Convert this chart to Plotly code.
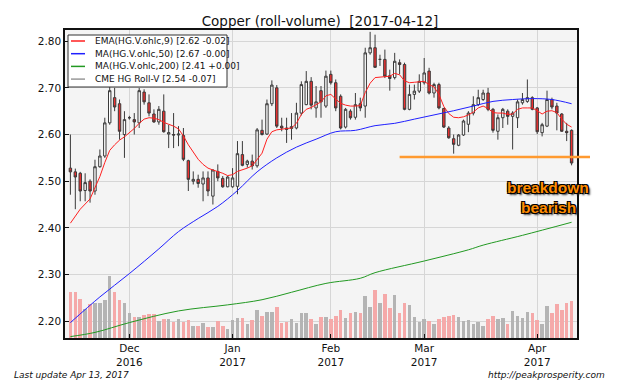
import pandas as pd
import plotly.graph_objects as go

# ---------------- data ----------------
START = "2016-11-14"
END = "2017-04-12"
HOLIDAYS = ["2016-11-24", "2016-12-26", "2017-01-02", "2017-01-16", "2017-02-20"]
DATES = [d.strftime("%Y-%m-%d") for d in pd.bdate_range(START, END) if d.strftime("%Y-%m-%d") not in HOLIDAYS]

OPEN = [2.528, 2.520, 2.517, 2.480, 2.500, 2.479, 2.531, 2.554, 2.625, 2.679,
        2.666, 2.600, 2.636, 2.632, 2.625, 2.691, 2.668, 2.644, 2.627, 2.650,
        2.601, 2.600, 2.599, 2.598, 2.544, 2.500, 2.504, 2.494, 2.507, 2.468,
        2.521, 2.506, 2.488, 2.488, 2.489, 2.557, 2.536, 2.543, 2.533, 2.609,
        2.601, 2.666, 2.700, 2.618, 2.614, 2.613, 2.614, 2.646, 2.664, 2.714,
        2.657, 2.694, 2.661, 2.729, 2.711, 2.682, 2.616, 2.650, 2.637, 2.666,
        2.661, 2.775, 2.786, 2.761, 2.761, 2.726, 2.722, 2.754, 2.750, 2.654,
        2.686, 2.693, 2.711, 2.736, 2.689, 2.707, 2.656, 2.614, 2.591, 2.577,
        2.599, 2.622, 2.646, 2.664, 2.675, 2.689, 2.654, 2.607, 2.636, 2.650,
        2.639, 2.636, 2.668, 2.671, 2.679, 2.657, 2.604, 2.618, 2.675, 2.661,
        2.644, 2.607, 2.609]
HIGH = [2.600, 2.527, 2.520, 2.517, 2.504, 2.546, 2.568, 2.636, 2.721, 2.700,
        2.675, 2.650, 2.640, 2.646, 2.700, 2.697, 2.686, 2.654, 2.661, 2.686,
        2.621, 2.646, 2.618, 2.614, 2.546, 2.521, 2.514, 2.521, 2.521, 2.525,
        2.536, 2.511, 2.511, 2.528, 2.586, 2.586, 2.546, 2.557, 2.614, 2.632,
        2.675, 2.716, 2.706, 2.636, 2.636, 2.646, 2.668, 2.714, 2.736, 2.723,
        2.704, 2.704, 2.737, 2.737, 2.718, 2.686, 2.657, 2.654, 2.689, 2.679,
        2.786, 2.820, 2.814, 2.771, 2.782, 2.739, 2.775, 2.761, 2.754, 2.707,
        2.707, 2.729, 2.764, 2.743, 2.711, 2.711, 2.657, 2.618, 2.600, 2.601,
        2.632, 2.650, 2.682, 2.696, 2.696, 2.700, 2.657, 2.643, 2.657, 2.654,
        2.650, 2.675, 2.689, 2.718, 2.682, 2.659, 2.625, 2.694, 2.679, 2.668,
        2.646, 2.625, 2.611]
LOW = [2.471, 2.440, 2.457, 2.457, 2.454, 2.471, 2.529, 2.550, 2.621, 2.650,
       2.589, 2.550, 2.632, 2.600, 2.614, 2.664, 2.639, 2.625, 2.621, 2.604,
       2.571, 2.571, 2.575, 2.543, 2.479, 2.493, 2.486, 2.457, 2.468, 2.450,
       2.500, 2.486, 2.487, 2.486, 2.472, 2.532, 2.529, 2.525, 2.529, 2.598,
       2.599, 2.661, 2.614, 2.607, 2.582, 2.589, 2.611, 2.641, 2.663, 2.654,
       2.636, 2.636, 2.657, 2.707, 2.650, 2.611, 2.613, 2.632, 2.632, 2.650,
       2.636, 2.771, 2.743, 2.747, 2.721, 2.694, 2.718, 2.729, 2.652, 2.652,
       2.675, 2.689, 2.707, 2.686, 2.679, 2.654, 2.614, 2.591, 2.559, 2.575,
       2.597, 2.605, 2.641, 2.661, 2.672, 2.650, 2.604, 2.589, 2.614, 2.621,
       2.568, 2.614, 2.664, 2.668, 2.652, 2.601, 2.596, 2.616, 2.654, 2.609,
       2.606, 2.586, 2.534]
CLOSE = [2.520, 2.509, 2.479, 2.497, 2.479, 2.531, 2.554, 2.625, 2.694, 2.659,
         2.607, 2.632, 2.636, 2.627, 2.694, 2.670, 2.646, 2.627, 2.654, 2.606,
         2.604, 2.599, 2.601, 2.547, 2.504, 2.504, 2.495, 2.507, 2.479, 2.524,
         2.507, 2.488, 2.509, 2.507, 2.559, 2.534, 2.543, 2.533, 2.610, 2.600,
         2.666, 2.706, 2.618, 2.614, 2.611, 2.617, 2.646, 2.707, 2.714, 2.663,
         2.670, 2.670, 2.725, 2.711, 2.657, 2.614, 2.654, 2.636, 2.664, 2.657,
         2.775, 2.786, 2.744, 2.761, 2.725, 2.720, 2.757, 2.750, 2.654, 2.686,
         2.693, 2.714, 2.732, 2.689, 2.707, 2.657, 2.616, 2.593, 2.579, 2.599,
         2.629, 2.646, 2.664, 2.679, 2.689, 2.654, 2.609, 2.636, 2.654, 2.639,
         2.646, 2.670, 2.675, 2.679, 2.654, 2.606, 2.621, 2.675, 2.659, 2.646,
         2.607, 2.604, 2.539]
VOLUME = [114, 114, 98, 72, 84, 88, 88, 95, 155, 114,
          95, 88, 62, 53, 53, 58, 59, 60, 43, 48,
          48, 41, 47, 41, 45, 30, 30, 37, 27, 27,
          43, 30, 22, 45, 49, 49, 35, 45, 70, 55,
          66, 65, 78, 38, 41, 47, 38, 62, 62, 47,
          35, 53, 53, 47, 55, 70, 49, 63, 66, 62,
          105, 78, 120, 88, 110, 74, 108, 63, 88, 83,
          53, 41, 47, 43, 35, 47, 53, 55, 58, 53,
          43, 45, 35, 39, 30, 48, 55, 48, 49, 35,
          68, 55, 51, 65, 62, 45, 35, 80, 63, 84,
          70, 88, 93]

EMA_IDX = [0, 2, 4] + list(range(5, 103))
EMA9 = [2.410, 2.440, 2.462, 2.485, 2.510, 2.540, 2.566, 2.578, 2.588, 2.595,
        2.603, 2.613, 2.624, 2.633, 2.636, 2.635, 2.632, 2.626, 2.622, 2.618,
        2.612, 2.597, 2.578, 2.561, 2.547, 2.536, 2.528, 2.524, 2.521, 2.517,
        2.512, 2.514, 2.521, 2.524, 2.528, 2.533, 2.546, 2.560, 2.590, 2.606,
        2.610, 2.612, 2.613, 2.614, 2.624, 2.643, 2.654, 2.658, 2.664, 2.670,
        2.683, 2.686, 2.676, 2.667, 2.663, 2.661, 2.661, 2.662, 2.690, 2.710,
        2.722, 2.723, 2.724, 2.725, 2.731, 2.728, 2.715, 2.711, 2.712, 2.713,
        2.714, 2.707, 2.702, 2.686, 2.660, 2.645, 2.637, 2.636, 2.638, 2.642,
        2.648, 2.657, 2.661, 2.656, 2.647, 2.646, 2.646, 2.643, 2.644, 2.654,
        2.657, 2.657, 2.657, 2.651, 2.644, 2.650, 2.651, 2.647, 2.633, 2.622,
        2.616]
MA50_IDX = [0, 6, 12, 18, 22, 26, 30, 34, 38, 42, 46, 50, 54, 58, 62, 66, 70, 74, 78, 82, 86, 90, 94, 98, 102]
MA50 = [2.197, 2.252, 2.302, 2.355, 2.392, 2.420, 2.446, 2.480, 2.520, 2.550,
        2.573, 2.590, 2.606, 2.609, 2.619, 2.624, 2.633, 2.642, 2.651, 2.661,
        2.671, 2.675, 2.677, 2.675, 2.666]
MA200_IDX = [0, 5, 12, 22, 32, 39, 45, 52, 59, 62, 72, 81, 84, 92, 102]
MA200 = [2.167, 2.176, 2.197, 2.222, 2.235, 2.246, 2.262, 2.281, 2.292, 2.304,
         2.329, 2.353, 2.363, 2.384, 2.412]

LEVEL = 2.552          # breakdown support level
LEVEL_START = "2017-02-22"

MONTH_TICKS = ["2016-12-01", "2017-01-03", "2017-02-01", "2017-03-01", "2017-04-03"]
MONTH_LABELS = ["Dec<br>2016", "Jan<br>2017", "Feb<br>2017", "Mar<br>2017", "Apr<br>2017"]
Y_TICKS = [2.2, 2.3, 2.4, 2.5, 2.6, 2.7, 2.8]

LEGEND_NAMES = ["EMA(HG.V.ohlc,9) [2.62 -0.02]", "MA(HG.V.ohlc,50) [2.67 -0.00]",
                "MA(HG.V.ohlc,200) [2.41 +0.00]", "CME HG Roll-V [2.54 -0.07]"]
LEGEND_COLORS = ["#ff2020", "#2020ff", "#229922", "#999999"]

# ---------------- figure ----------------
W, H = 640, 384
ML, MR, MT, MB = 65, 63, 30, 46
PW, PH = W - ML - MR, H - MT - MB
XR = [-1.1, 103.1]
YR = [2.164, 2.824]
FONT = "DejaVu Sans"


def px(x):  # pixel -> paper x
    return (x - ML) / PW


def py(y):  # pixel -> paper y
    return (H - MB - y) / PH


vol_colors = ["#b4b4b4" if c >= o else "#f5a9a9" for o, c in zip(OPEN, CLOSE)]

fig = go.Figure()
fig.add_trace(go.Bar(x=DATES, y=VOLUME, marker=dict(color=vol_colors, line=dict(width=0)),
                     width=0.72, yaxis="y", hoverinfo="skip"))
fig.add_trace(go.Scatter(x=[DATES[i] for i in EMA_IDX], y=EMA9, mode="lines", name=LEGEND_NAMES[0],
                         line=dict(color=LEGEND_COLORS[0], width=1), yaxis="y2"))
fig.add_trace(go.Scatter(x=[DATES[i] for i in MA50_IDX], y=MA50, mode="lines", name=LEGEND_NAMES[1],
                         line=dict(color=LEGEND_COLORS[1], width=1, shape="spline"), yaxis="y2"))
fig.add_trace(go.Scatter(x=[DATES[i] for i in MA200_IDX], y=MA200, mode="lines", name=LEGEND_NAMES[2],
                         line=dict(color=LEGEND_COLORS[2], width=1, shape="spline"), yaxis="y2"))
fig.add_trace(go.Candlestick(x=DATES, open=OPEN, high=HIGH, low=LOW, close=CLOSE, yaxis="y2",
                             name=LEGEND_NAMES[3],
                             increasing=dict(fillcolor="#ffffff", line=dict(color="#3a3a3a", width=1)),
                             decreasing=dict(fillcolor="#ee3030", line=dict(color="#3a3a3a", width=1)),
                             whiskerwidth=0, hoverinfo="skip"))

# support line (paper coords derived from axis ranges so it can run past the frame)
lvl_x0 = (DATES.index(LEVEL_START) - XR[0]) / (XR[1] - XR[0])
lvl_y = (LEVEL - YR[0]) / (YR[1] - YR[0])
fig.add_shape(type="line", xref="paper", yref="paper", x0=lvl_x0, x1=px(590), y0=lvl_y, y1=lvl_y,
              line=dict(color="#ff9a30", width=2.5))

# hand-made legend box (matplotlib style, compact rows)
fig.add_shape(type="rect", xref="paper", yref="paper", x0=px(68), x1=px(227), y0=py(35), y1=py(87),
              fillcolor="white", line=dict(color="#333", width=1), layer="above")
for k, (name, col) in enumerate(zip(LEGEND_NAMES, LEGEND_COLORS)):
    yy = 41 + k * 12.7
    fig.add_shape(type="line", xref="paper", yref="paper", x0=px(71), x1=px(85), y0=py(yy), y1=py(yy),
                  line=dict(color=col, width=1.5), layer="above")
    fig.add_annotation(text=name, xref="paper", yref="paper", x=px(93), y=py(yy), showarrow=False,
                       xanchor="left", yanchor="middle", font=dict(family=FONT, size=9, color="#111"))

shadow = "-1px -1px 0 #000, 1px -1px 0 #000, -1px 1px 0 #000, 1px 1px 0 #000, 2px 2px 2px #222"
fig.add_annotation(text="<b>breakdown</b>", xref="paper", yref="paper", x=px(548), y=py(187),
                   showarrow=False, xanchor="center", yanchor="middle",
                   font=dict(family="Liberation Sans", size=15.5, color="#ff8c00", shadow=shadow))
fig.add_annotation(text="<b>bearish</b>", xref="paper", yref="paper", x=px(548), y=py(207),
                   showarrow=False, xanchor="center", yanchor="middle",
                   font=dict(family="Liberation Sans", size=15.5, color="#ff8c00", shadow=shadow))
fig.add_annotation(text="<i>Last update Apr 13, 2017</i>", xref="paper", yref="paper", x=px(12), y=py(375),
                   showarrow=False, xanchor="left", yanchor="middle",
                   font=dict(family=FONT, size=9, color="#111"))
fig.add_annotation(text="<i>http://peakprosperity.com</i>", xref="paper", yref="paper", x=px(607), y=py(375),
                   showarrow=False, xanchor="right", yanchor="middle",
                   font=dict(family=FONT, size=9, color="#111"))

fig.update_layout(
    width=W, height=H,
    margin=dict(l=ML, r=MR, t=MT, b=MB),
    paper_bgcolor="white", plot_bgcolor="#f4f4f4",
    font=dict(family=FONT, size=10, color="#111"),
    title=dict(text="Copper (roll-volume)  [2017-04-12]", x=0.5, xanchor="center",
               y=1 - 21 / H, yanchor="middle", font=dict(family=FONT, size=13.5, color="#111")),
    showlegend=False,
    bargap=0,
    xaxis=dict(type="category", range=XR, tickmode="array", tickvals=MONTH_TICKS, ticktext=MONTH_LABELS,
               showgrid=True, gridcolor="#d6d6d6", gridwidth=1, showline=True, linecolor="#111",
               linewidth=1.5, mirror=True, ticks="inside", ticklen=4, tickcolor="#111",
               rangeslider=dict(visible=False), tickfont=dict(size=10.5)),
    yaxis=dict(range=[0, 770], showgrid=False, showticklabels=False, zeroline=False, showline=False),
    yaxis2=dict(overlaying="y", side="left", range=YR, tickvals=Y_TICKS, tickformat=".2f",
                showgrid=True, gridcolor="#d6d6d6", gridwidth=1, zeroline=False, showline=True,
                linecolor="#111", linewidth=1.5, mirror=True, ticks="inside", ticklen=4,
                tickcolor="#111", tickfont=dict(size=10.5)),
)

fig.write_html("out.html", config={"displayModeBar": False},
               post_script="document.body.style.margin='0';document.body.style.overflow='hidden';")
